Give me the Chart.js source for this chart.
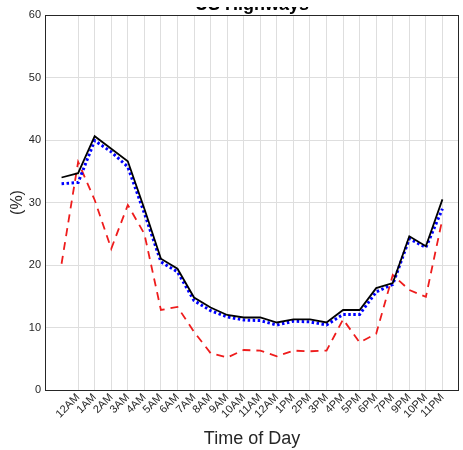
<!DOCTYPE html>
<html>
<head>
<meta charset="utf-8">
<script src="https://cdn.jsdelivr.net/npm/chart.js@4"></script>
<style>
  html, body { margin: 0; padding: 0; background: #fff; }
  #wrap { width: 463px; height: 450px; }
</style>
</head>
<body>
<div id="wrap"><canvas id="chart" width="463" height="450"></canvas></div>
<script>
// hour of day for each point (0 = midnight)
const hours = [0, 1, 2, 3, 4, 5, 6, 7, 8, 9, 10, 11, 12, 13, 14, 15, 16, 17, 18, 19, 20, 21, 22, 23];

// tick labels as printed on the original figure (sits on hours 1..23)
const tickLabels = ['12AM', '1AM', '2AM', '3AM', '4AM', '5AM', '6AM', '7AM', '8AM', '9AM', '10AM', '11AM',
  '12AM', '1PM', '2PM', '3PM', '4PM', '5PM', '6PM', '7PM', '9PM', '10PM', '11PM'];

const blackSeries = [34.0, 34.7, 40.6, 38.6, 36.6, 29.0, 21.0, 19.4, 14.8, 13.2, 12.0, 11.6,
  11.6, 10.8, 11.3, 11.3, 10.8, 12.8, 12.8, 16.3, 17.1, 24.6, 23.0, 30.5];
const blueSeries = [33.0, 33.2, 39.9, 38.1, 35.7, 28.3, 20.5, 18.9, 14.3, 12.7, 11.7, 11.2,
  11.1, 10.4, 11.0, 10.9, 10.4, 12.1, 12.1, 15.7, 16.9, 24.2, 22.8, 29.0];
const redSeries = [20.2, 36.5, 30.4, 22.6, 29.6, 25.0, 12.8, 13.3, 9.3, 5.9, 5.2, 6.4,
  6.3, 5.4, 6.3, 6.2, 6.3, 11.3, 7.6, 9.0, 18.4, 16.0, 14.9, 27.4];

const chartTitle = 'US Highways';
const FONT = "'Liberation Sans', Arial, Helvetica, sans-serif";
const AXIS_COLOR = '#262626';

const toPoints = (vals) => vals.map((v, i) => ({ x: hours[i], y: v }));

// MATLAB-style box around the axes plus the title, which is cut off in the original
const boxPlugin = {
  id: 'box',
  afterDraw(chart) {
    const { ctx, chartArea: a } = chart;
    ctx.save();
    ctx.strokeStyle = AXIS_COLOR;
    ctx.lineWidth = 1;
    ctx.strokeRect(a.left + 0.5, a.top + 0.5, a.right - a.left - 1, a.bottom - a.top);
    ctx.restore();

    ctx.save();
    ctx.beginPath();
    ctx.rect(0, 7, chart.width, a.top - 7);
    ctx.clip();
    ctx.fillStyle = '#000';
    ctx.font = 'bold 18px ' + FONT;
    ctx.textAlign = 'center';
    ctx.textBaseline = 'alphabetic';
    ctx.fillText(chartTitle, (a.left + a.right) / 2, 9.5);
    ctx.restore();
  }
};

const ctx = document.getElementById('chart').getContext('2d');
new Chart(ctx, {
  type: 'line',
  data: {
    datasets: [
      {
        label: 'all',
        data: toPoints(blackSeries),
        borderColor: '#000000',
        borderWidth: 1.8,
        pointRadius: 0,
        tension: 0,
        order: 1,
      },
      {
        label: 'blue',
        data: toPoints(blueSeries),
        borderColor: '#0000ff',
        borderWidth: 3,
        borderDash: [2.5, 2.5],
        pointRadius: 0,
        tension: 0,
        order: 2,
      },
      {
        label: 'red',
        data: toPoints(redSeries),
        borderColor: '#ee1c1c',
        borderWidth: 1.8,
        borderDash: [8, 6],
        pointRadius: 0,
        tension: 0,
        order: 3,
      },
    ],
  },
  options: {
    responsive: false,
    animation: false,
    layout: { padding: { top: 15, right: 4, left: 8, bottom: 0 } },
    plugins: {
      legend: { display: false },
      tooltip: { enabled: false },
    },
    scales: {
      x: {
        type: 'linear',
        min: -1,
        max: 24,
        afterBuildTicks: (scale) => {
          scale.ticks = tickLabels.map((_, i) => ({ value: i + 1 }));
        },
        afterFit: (scale) => { scale.height = 60; },
        ticks: {
          autoSkip: false,
          minRotation: 45,
          maxRotation: 45,
          padding: 1,
          color: AXIS_COLOR,
          font: { family: FONT, size: 11 },
          callback: (value) => tickLabels[value - 1],
        },
        grid: { color: '#dedede', drawTicks: false, tickLength: 4 },
        border: { display: false },
        title: {
          display: true,
          text: 'Time of Day',
          color: AXIS_COLOR,
          font: { family: FONT, size: 18 },
          padding: { top: 0, bottom: 0 },
        },
      },
      y: {
        min: 0,
        max: 60,
        afterFit: (scale) => { scale.width = 37; },
        ticks: {
          stepSize: 10,
          padding: 4,
          color: AXIS_COLOR,
          font: { family: FONT, size: 11 },
        },
        grid: { color: '#dedede', drawTicks: true, tickLength: 0 },
        border: { display: false },
        title: {
          display: true,
          text: '(%)',
          color: AXIS_COLOR,
          font: { family: FONT, size: 16 },
          padding: { top: 0, bottom: 4 },
        },
      },
    },
  },
  plugins: [boxPlugin],
});
</script>
</body>
</html>
